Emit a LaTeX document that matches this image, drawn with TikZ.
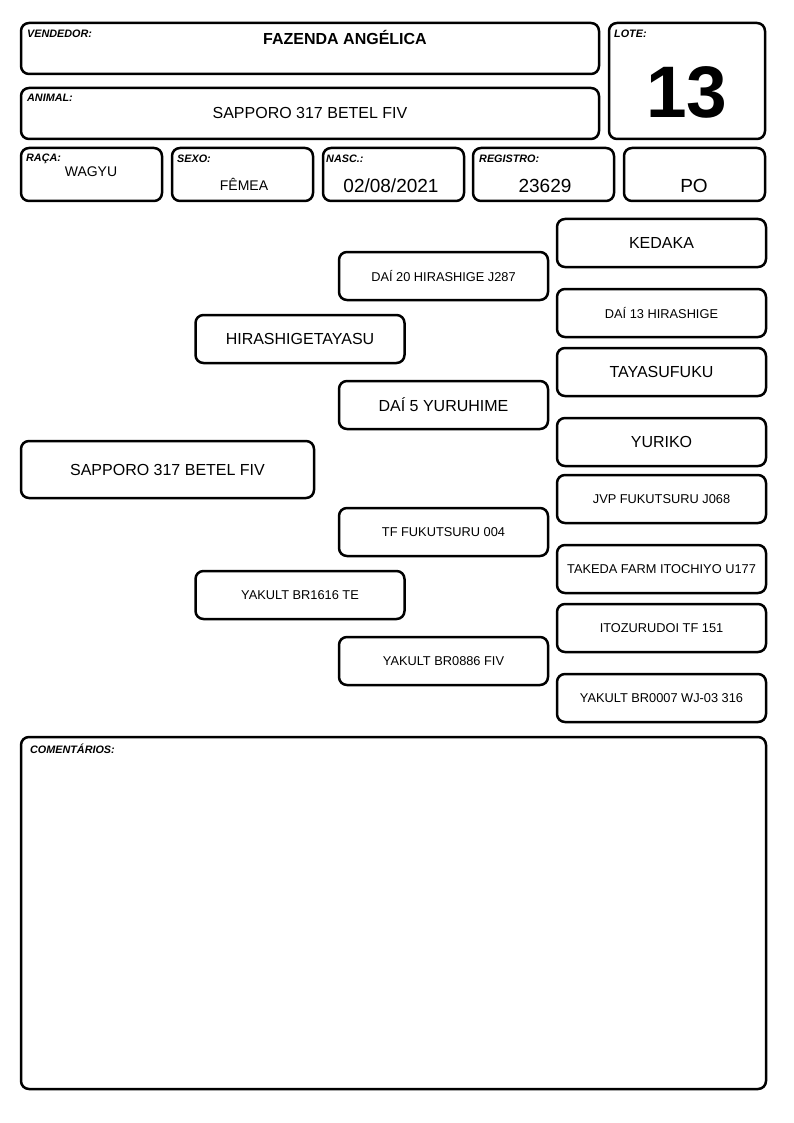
\documentclass[tikz,border=0pt]{standalone}
\usepackage{fontspec}
\setmainfont{Liberation Sans}
\usetikzlibrary{positioning}

\begin{document}
\begin{tikzpicture}[x=1pt, y=-1pt,
    box/.style={draw, line width=2.5pt, rounded corners=8pt, inner sep=0pt},
    rowbox/.style={box, minimum width=141pt, minimum height=53pt},
    pedbox/.style={box, minimum width=209pt, minimum height=48pt},
    big/.style={font=\fontsize{16}{18}\selectfont},
    small/.style={font=\fontsize{12.8}{15}\selectfont},
    tag/.style={font=\bfseries\itshape\fontsize{10.8}{12}\selectfont, anchor=north west, inner sep=0pt}]
    \useasboundingbox (0,0) rectangle (794,1123);

    % Header
    \node[box, minimum width=578pt, minimum height=51pt] (vendedor) at (310,48.5) {};
    \node[box, minimum width=578pt, minimum height=51pt] (animal) at (310,113.5) {};
    \node[box, minimum width=156pt, minimum height=116pt] (lote) at (687,81) {};
    \node[tag] (vendedortag) at (27,30) {VENDEDOR:};
    \node[tag] (animaltag) at (27,94) {ANIMAL:};
    \node[tag] (lotetag) at (614,30) {LOTE:};
    \node[font=\bfseries\fontsize{16}{18}\selectfont] (vendedorname) at (345,37) {FAZENDA ANGÉLICA};
    \node[big] (animalname) at (310,113) {SAPPORO 317 BETEL FIV};
    \node[font=\bfseries\fontsize{73}{80}\selectfont] (lotenum) at (687,92) {13};

    % Data row
    \node[rowbox] (raca) at (91.5,174.5) {};
    \node[rowbox] (sexo) at (242.5,174.5) {};
    \node[rowbox] (nasc) at (393.5,174.5) {};
    \node[rowbox] (registro) at (543.5,174.5) {};
    \node[rowbox] (po) at (694.5,174.5) {};
    \node[tag] (racatag) at (26,154) {RAÇA:};
    \node[tag] (sexotag) at (177,155) {SEXO:};
    \node[tag] (nasctag) at (326,155) {NASC.:};
    \node[tag] (registrotag) at (479,155) {REGISTRO:};
    \node[font=\fontsize{14}{16}\selectfont] (racaval) at (91,172) {WAGYU};
    \node[font=\fontsize{14}{16}\selectfont] (sexoval) at (244,184) {FÊMEA};
    \node[font=\fontsize{19}{21}\selectfont] (nascval) at (391,186) {02/08/2021};
    \node[font=\fontsize{19}{21}\selectfont] (registroval) at (545,186) {23629};
    \node[font=\fontsize{19}{21}\selectfont] (poval) at (694,186) {PO};

    % Pedigree
    \node[box, big, minimum width=293pt, minimum height=57pt] (self) at (167.5,469.5) {SAPPORO 317 BETEL FIV};
    \node[pedbox, big] (sire) at (300,339) {HIRASHIGETAYASU};
    \node[pedbox, small] (dam) at (300,595) {YAKULT BR1616 TE};
    \node[pedbox, small] (siresire) at (443.5,276) {DAÍ 20 HIRASHIGE J287};
    \node[pedbox, big] (siredam) at (443.5,405) {DAÍ 5 YURUHIME};
    \node[pedbox, small] (damsire) at (443.5,532) {TF FUKUTSURU 004};
    \node[pedbox, small] (damdam) at (443.5,661) {YAKULT BR0886 FIV};
    \node[pedbox, big] (sss) at (661.5,243) {KEDAKA};
    \node[pedbox, small] (ssd) at (661.5,313) {DAÍ 13 HIRASHIGE};
    \node[pedbox, big] (sds) at (661.5,372) {TAYASUFUKU};
    \node[pedbox, big] (sdd) at (661.5,442) {YURIKO};
    \node[pedbox, small] (dss) at (661.5,499) {JVP FUKUTSURU J068};
    \node[pedbox, small] (dsd) at (661.5,569) {TAKEDA FARM ITOCHIYO U177};
    \node[pedbox, small] (dds) at (661.5,628) {ITOZURUDOI TF 151};
    \node[pedbox, small] (ddd) at (661.5,698) {YAKULT BR0007 WJ-03 316};

    % Comments
    \node[box, minimum width=745pt, minimum height=352pt] (comentarios) at (393.5,913) {};
    \node[tag] (comentariostag) at (30,744) {COMENTÁRIOS:};
\end{tikzpicture}
\end{document}
